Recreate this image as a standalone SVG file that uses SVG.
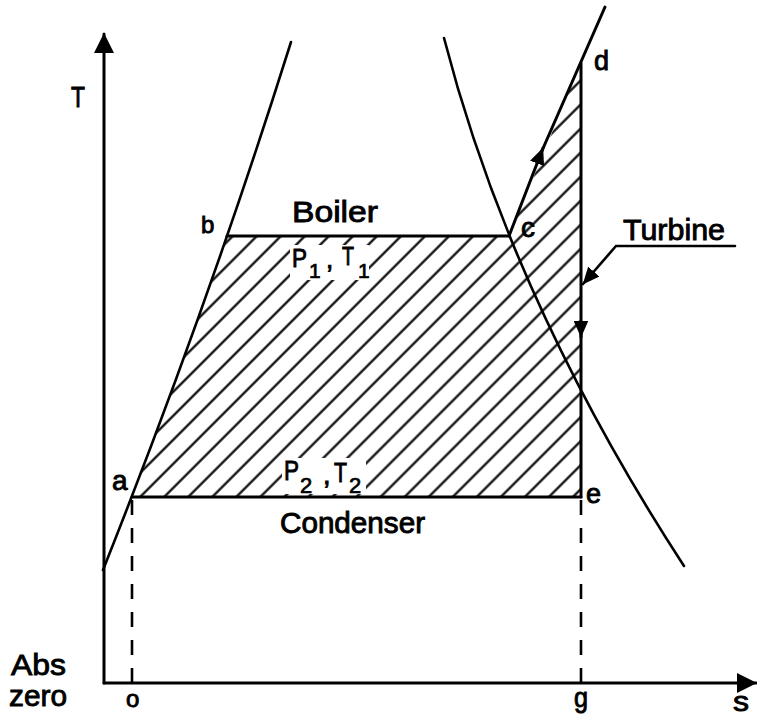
<svg xmlns="http://www.w3.org/2000/svg" width="757" height="721" viewBox="0 0 757 721">
  <style>
    .ln { fill: none; stroke: #000; stroke-width: 3; stroke-linecap: round; stroke-linejoin: round; }
    .cv { fill: none; stroke: #000; stroke-width: 2.6; stroke-linecap: round; }
    .dash { fill: none; stroke: #000; stroke-width: 2.6; stroke-dasharray: 15 13; }
    .tx { font-family: "Liberation Sans", Arial, sans-serif; fill: #000; stroke: #000; stroke-width: 0.9; }
    .sub { font-family: "Liberation Sans", Arial, sans-serif; fill: #000; stroke: #000; stroke-width: 0.7; }
    .blank { fill: #fff; stroke: none; }
  </style>
  <defs>
    <pattern id="hatch" patternUnits="userSpaceOnUse" width="17" height="17" patternTransform="rotate(45)">
      <line x1="8.5" y1="-1" x2="8.5" y2="18" stroke="#000" stroke-width="2.2"/>
    </pattern>
    <marker id="axisArrow" viewBox="0 0 20 20" refX="19" refY="10" markerWidth="20" markerHeight="20" markerUnits="userSpaceOnUse" orient="auto">
      <path d="M0,0 L20,10 L0,20 Z" fill="#000"/>
    </marker>
    <marker id="arrow" viewBox="0 0 17 15" refX="16.5" refY="7.5" markerWidth="17" markerHeight="15" markerUnits="userSpaceOnUse" orient="auto">
      <path d="M0,0 L17,7.5 L0,15 Z" fill="#000"/>
    </marker>
  </defs>

  <rect x="0" y="0" width="757" height="721" fill="#fff"/>

  <!-- hatched work area a-b-c-d-e -->
  <g id="hatched-area">
    <path d="M132,497 L157,430 L183,360 L205,300 L227,236 L509,236 L581,63 L581,497 Z" fill="url(#hatch)"/>
    <rect class="blank" x="290" y="245" width="79" height="35"/>
    <rect class="blank" x="282" y="458" width="84" height="36"/>
  </g>

  <!-- axes -->
  <g id="axes">
    <path class="ln" d="M104,683 L104,34" marker-end="url(#axisArrow)"/>
    <path class="ln" d="M104,683 L756,683" marker-end="url(#axisArrow)"/>
  </g>

  <!-- saturation dome -->
  <g id="saturation-curves">
    <path class="cv" d="M291,42 Q208,306 103,570"/>
    <path class="cv" d="M444,38 Q512,302 684,566"/>
  </g>

  <!-- cycle lines / connectors -->
  <g id="connectors">
    <path class="ln" d="M227,236 L509,236"/>
    <path class="ln" d="M132,497 L581,497"/>
    <path class="ln" d="M509,236 L543,148" marker-end="url(#arrow)"/>
    <path class="ln" d="M541,153 L605,7"/>
    <path class="ln" d="M581,63 L581,337" marker-end="url(#arrow)"/>
    <path class="ln" d="M581,330 L581,497"/>
    <path class="dash" d="M132,500 L132,683"/>
    <path class="dash" d="M581,500 L581,683"/>
    <path class="cv" d="M735,246 L616,246 L583,284" marker-end="url(#arrow)"/>
  </g>

  <!-- point labels -->
  <g id="point-a"><text class="tx" x="112" y="490" font-size="28">a</text></g>
  <g id="point-b"><text class="tx" x="201" y="233" font-size="24">b</text></g>
  <g id="point-c"><text class="tx" x="521" y="237" font-size="28">c</text></g>
  <g id="point-d"><text class="tx" x="594" y="70" font-size="27">d</text></g>
  <g id="point-e"><text class="tx" x="586" y="503" font-size="27">e</text></g>

  <!-- process labels -->
  <g id="boiler">
    <text class="tx" x="292" y="222" font-size="30" textLength="86" lengthAdjust="spacingAndGlyphs">Boiler</text>
  </g>
  <g id="state-1">
    <text class="tx" x="292" y="267" font-size="26" textLength="15" lengthAdjust="spacingAndGlyphs">P</text>
    <text class="sub" x="309" y="278" font-size="21">1</text>
    <text class="tx" x="326" y="268" font-size="26">,</text>
    <text class="tx" x="342" y="265" font-size="26" textLength="12" lengthAdjust="spacingAndGlyphs">T</text>
    <text class="sub" x="358" y="278" font-size="21">1</text>
  </g>
  <g id="state-2">
    <text class="tx" x="284" y="480" font-size="27" textLength="15" lengthAdjust="spacingAndGlyphs">P</text>
    <text class="sub" x="300" y="493" font-size="22">2</text>
    <text class="tx" x="323" y="484" font-size="27">,</text>
    <text class="tx" x="334" y="482" font-size="27" textLength="13" lengthAdjust="spacingAndGlyphs">T</text>
    <text class="sub" x="349" y="493" font-size="22">2</text>
  </g>
  <g id="condenser">
    <text class="tx" x="280" y="533" font-size="29" textLength="145" lengthAdjust="spacingAndGlyphs">Condenser</text>
  </g>
  <g id="turbine">
    <text class="tx" x="623" y="240" font-size="30" textLength="102" lengthAdjust="spacingAndGlyphs">Turbine</text>
  </g>

  <!-- axis labels -->
  <g id="axis-labels">
    <text class="tx" x="71" y="107" font-size="30" textLength="14" lengthAdjust="spacingAndGlyphs">T</text>
    <text class="tx" x="11" y="675" font-size="30" textLength="55" lengthAdjust="spacingAndGlyphs">Abs</text>
    <text class="tx" x="9" y="706" font-size="30" textLength="58" lengthAdjust="spacingAndGlyphs">zero</text>
    <text class="tx" x="126" y="707" font-size="24">o</text>
    <text class="tx" x="574" y="707" font-size="27" textLength="14" lengthAdjust="spacingAndGlyphs">g</text>
    <text class="tx" x="733" y="711" font-size="28" textLength="16" lengthAdjust="spacingAndGlyphs">s</text>
  </g>
</svg>
